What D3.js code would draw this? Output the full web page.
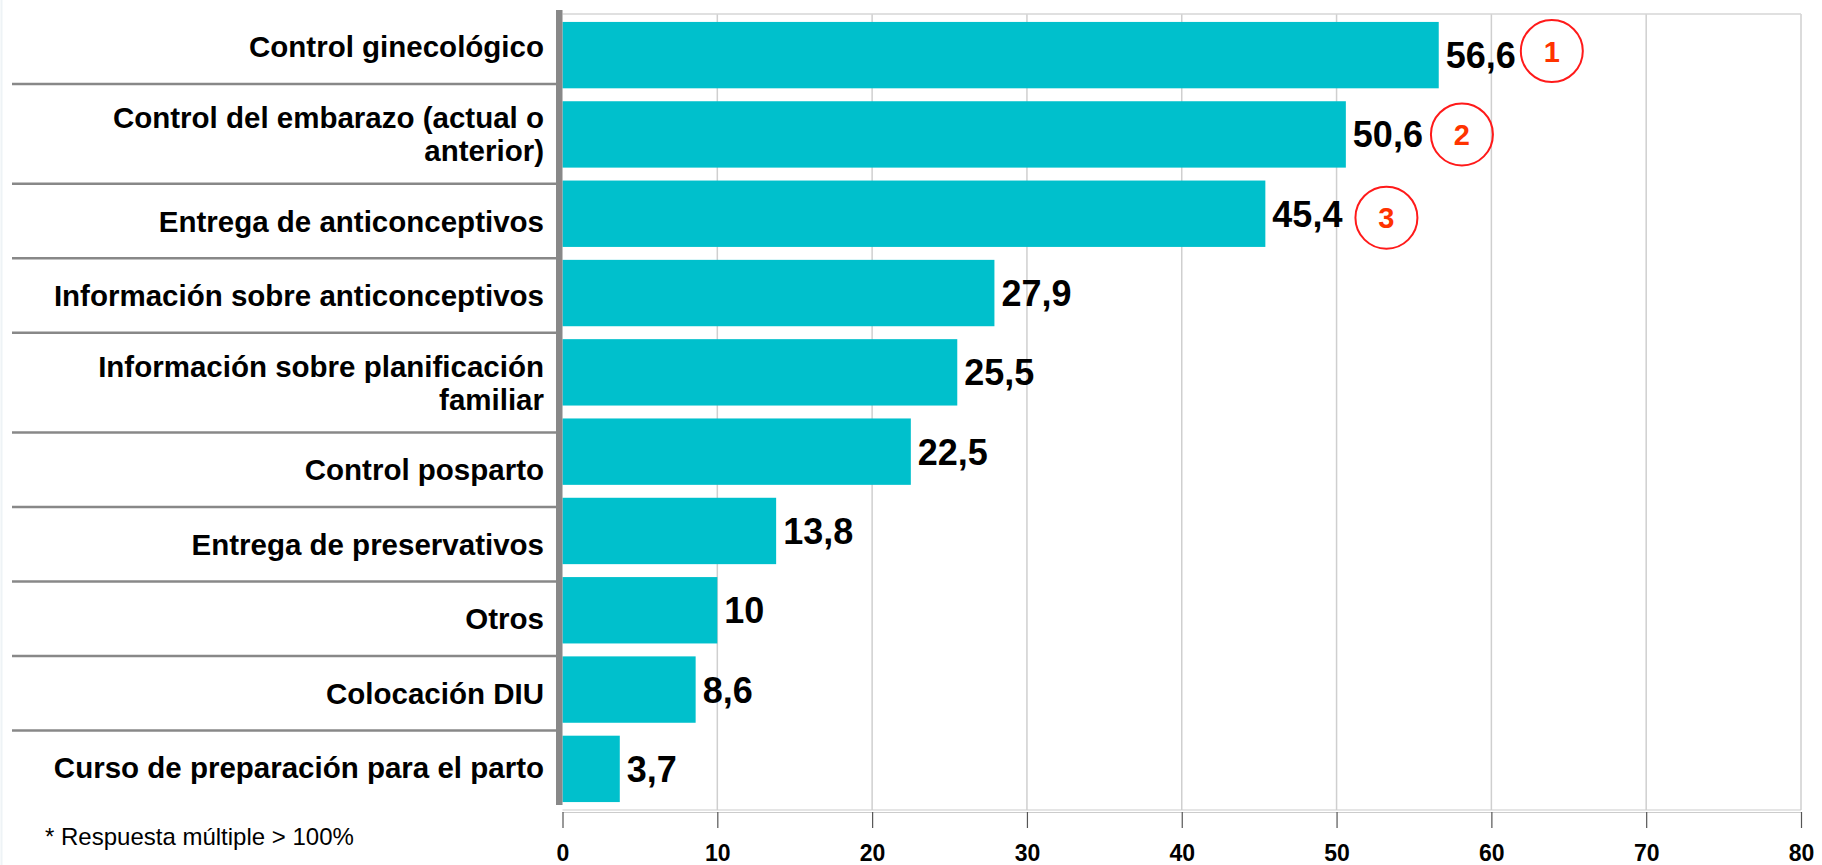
<!DOCTYPE html>
<html>
<head>
<meta charset="utf-8">
<script src="https://cdn.jsdelivr.net/npm/d3@7"></script>
<style>
  html, body { margin: 0; padding: 0; background: #fff; }
  svg { display: block; }
  text { font-family: "Liberation Sans", Arial, sans-serif; }
</style>
</head>
<body>
<script>
const categories = [
  "Control ginecológico",
  "Control del embarazo (actual o\nanterior)",
  "Entrega de anticonceptivos",
  "Información sobre anticonceptivos",
  "Información sobre planificación\nfamiliar",
  "Control posparto",
  "Entrega de preservativos",
  "Otros",
  "Colocación DIU",
  "Curso de preparación para el parto"
];
const values = [56.6, 50.6, 45.4, 27.9, 25.5, 22.5, 13.8, 10, 8.6, 3.7];
const valueLabels = ["56,6", "50,6", "45,4", "27,9", "25,5", "22,5", "13,8", "10", "8,6", "3,7"];
const rankLabels = ["1", "2", "3"];
const tickValues = [0, 10, 20, 30, 40, 50, 60, 70, 80];
const footnote = "* Respuesta múltiple > 100%";

const W = 1822, H = 865;
const svg = d3.select("body").append("svg").attr("width", W).attr("height", H);

const x = d3.scaleLinear().domain([0, 80]).range([562.5, 1801]);
const y = d3.scaleBand().domain(categories).range([14, 810]).paddingInner(0.163).paddingOuter(0.1);

// row layout of the label table (two-line rows are taller)
const rowWeight = categories.map(c => c.includes("\n") ? 1.34 : 1);
const cum = [0];
rowWeight.forEach(w => cum.push(cum[cum.length - 1] + w));
const rowY = d3.scaleLinear().domain([0, cum[cum.length - 1]]).range([9.5, 805]);

// faint left border
svg.append("line").attr("x1", 1.5).attr("x2", 1.5).attr("y1", 0).attr("y2", H)
  .attr("stroke", "#eef3f6").attr("stroke-width", 2);

// gridlines
svg.append("g").selectAll("line").data(tickValues.filter(t => t > 0)).join("line")
  .attr("x1", d => x(d)).attr("x2", d => x(d)).attr("y1", 14).attr("y2", 810)
  .attr("stroke", "#cfcfcf").attr("stroke-width", 1.5);
svg.append("line").attr("x1", x(0)).attr("x2", x(80)).attr("y1", 14).attr("y2", 14)
  .attr("stroke", "#d6d6d6").attr("stroke-width", 1.5);

// bottom double axis line
[810, 812.5].forEach(yy => {
  svg.append("line").attr("x1", x(0)).attr("x2", x(80)).attr("y1", yy).attr("y2", yy)
    .attr("stroke", "#cccccc").attr("stroke-width", 1.2);
});

// x axis ticks and labels
const xAxis = svg.append("g").attr("transform", "translate(0,812)")
  .call(d3.axisBottom(x).tickValues(tickValues).tickSize(16).tickFormat(d3.format("d")));
xAxis.select(".domain").remove();
xAxis.selectAll(".tick line").attr("stroke", "#555").attr("stroke-width", 1.2);
xAxis.selectAll(".tick text").attr("y", 33).attr("dy", "0.71em")
  .attr("font-size", 23).attr("font-weight", "bold").attr("fill", "#000")
  .attr("font-family", "'Liberation Sans', Arial, sans-serif");

// row separator lines
svg.append("g").selectAll("line").data(cum.slice(1, -1)).join("line")
  .attr("x1", 12).attr("x2", 557).attr("y1", d => rowY(d)).attr("y2", d => rowY(d))
  .attr("stroke", "#888").attr("stroke-width", 2.5);

// bars
svg.append("g").selectAll("rect").data(values).join("rect")
  .attr("x", x(0)).attr("y", (d, i) => y(categories[i]))
  .attr("width", d => x(d) - x(0)).attr("height", y.bandwidth())
  .attr("fill", "#00C0CC");

// vertical gray axis bar
svg.append("rect").attr("x", 556).attr("y", 10).attr("width", 6.5).attr("height", 795)
  .attr("fill", "#888");

// category labels
const lg = svg.append("g");
categories.forEach((c, i) => {
  const lines = c.split("\n");
  const mid = (rowY(cum[i]) + rowY(cum[i + 1])) / 2;
  const lh = 33;
  const t = lg.append("text").attr("text-anchor", "end")
    .attr("font-size", 29.5).attr("font-weight", "bold").attr("fill", "#000");
  lines.forEach((ln, k) => {
    t.append("tspan").attr("x", 544)
      .attr("y", mid + (k - (lines.length - 1) / 2) * lh)
      .attr("dy", "0.36em").text(ln);
  });
});

// value labels
const vl = svg.append("g").selectAll("text").data(values).join("text")
  .attr("x", d => x(d) + 7)
  .attr("y", (d, i) => y(categories[i]) + y.bandwidth() / 2)
  .attr("dy", "0.36em")
  .attr("font-size", 36).attr("font-weight", "bold").attr("fill", "#000")
  .text((d, i) => valueLabels[i]);

// rank circles
const rankGap = [36, 39, 44];
const rankDy = [-4, 0, 4];
vl.each(function(d, i) {
  if (i >= rankLabels.length) return;
  const len = this.getComputedTextLength();
  const cx = x(d) + 7 + len + rankGap[i];
  const cy = y(categories[i]) + y.bandwidth() / 2 + rankDy[i];
  svg.append("circle").attr("cx", cx).attr("cy", cy).attr("r", 31)
    .attr("fill", "none").attr("stroke", "#FF1A1A").attr("stroke-width", 2);
  svg.append("text").attr("x", cx).attr("y", cy).attr("dy", "0.36em")
    .attr("text-anchor", "middle").attr("font-size", 29).attr("font-weight", "bold")
    .attr("fill", "#FF3300").text(rankLabels[i]);
});

// footnote
svg.append("text").attr("x", 45).attr("y", 845).attr("font-size", 24)
  .attr("fill", "#000").text(footnote);
</script>
</body>
</html>
